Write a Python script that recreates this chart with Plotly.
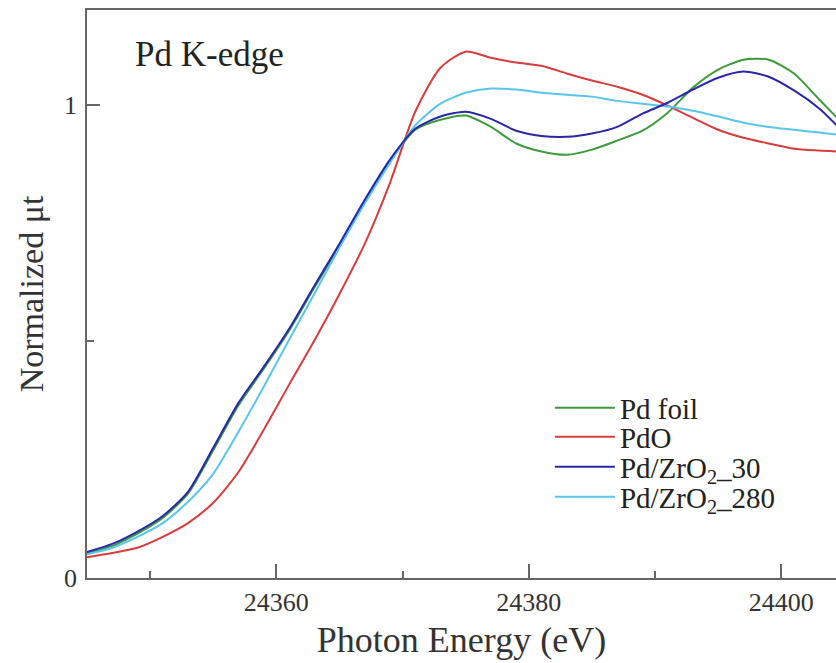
import plotly.graph_objects as go

energy = [24345, 24347, 24349, 24351, 24353, 24355, 24357, 24359, 24361, 24363,
          24365, 24367, 24369, 24371, 24373, 24375, 24377, 24379, 24381, 24383,
          24385, 24387, 24389, 24391, 24393, 24395, 24397, 24399, 24401, 24403, 24404.4]

pd_foil = [0.052, 0.068, 0.094, 0.127, 0.178, 0.270, 0.365, 0.442, 0.522, 0.613,
           0.702, 0.795, 0.880, 0.947, 0.968, 0.977, 0.953, 0.918, 0.901, 0.894,
           0.905, 0.924, 0.945, 0.983, 1.036, 1.074, 1.095, 1.095, 1.066, 1.011, 0.973]

pdo = [0.044, 0.053, 0.064, 0.087, 0.116, 0.159, 0.224, 0.313, 0.408, 0.501,
       0.600, 0.706, 0.835, 0.985, 1.078, 1.112, 1.099, 1.089, 1.082, 1.066,
       1.051, 1.038, 1.021, 0.998, 0.972, 0.947, 0.930, 0.918, 0.907, 0.903, 0.901]

pd_zro2_30 = [0.055, 0.072, 0.098, 0.131, 0.182, 0.275, 0.370, 0.446, 0.526, 0.617,
              0.706, 0.799, 0.884, 0.949, 0.975, 0.985, 0.970, 0.945, 0.934, 0.932,
              0.939, 0.953, 0.981, 1.004, 1.032, 1.057, 1.070, 1.059, 1.030, 0.992, 0.956]

pd_zro2_280 = [0.050, 0.064, 0.087, 0.116, 0.161, 0.220, 0.309, 0.404, 0.503, 0.600,
               0.698, 0.791, 0.877, 0.956, 1.002, 1.025, 1.034, 1.032, 1.025, 1.021,
               1.017, 1.008, 1.002, 0.996, 0.987, 0.975, 0.962, 0.953, 0.947, 0.941, 0.937]

series = [
    ("Pd foil", pd_foil, "#3c9c3c"),
    ("PdO", pdo, "#d83c3c"),
    ("Pd/ZrO<sub>2</sub>_30", pd_zro2_30, "#2828a8"),
    ("Pd/ZrO<sub>2</sub>_280", pd_zro2_280, "#58c6ec"),
]
legend_ids = ["legend", "legend2", "legend3", "legend4"]
legend_y = [0.2993, 0.2482, 0.1954, 0.1426]

FONT = '"Liberation Serif", "Times New Roman", Times, serif'
fig = go.Figure()
draw_order = [0, 1, 3, 2]
for i in draw_order:
    name, vals, col = series[i]
    fig.add_trace(go.Scatter(x=energy, y=vals, mode="lines", name=name,
                             line=dict(color=col, width=2, shape="spline", smoothing=0.7),
                             legend=legend_ids[i]))

axis_common = dict(showline=True, linecolor="#666", linewidth=1.5, mirror=True,
                   ticks="inside", tickcolor="#666", tickwidth=1.5, showgrid=False,
                   zeroline=False, automargin=False,
                   tickfont=dict(family=FONT, size=26, color="#333"))

fig.update_xaxes(range=[24345, 24404.33], tick0=24360, dtick=20, ticklen=14, tickformat="d",
                 minor=dict(dtick=10, tick0=24350, ticklen=7, ticks="inside", tickcolor="#666", tickwidth=1.5),
                 title=dict(text="Photon Energy (eV)", font=dict(family=FONT, size=36, color="#333"), standoff=11),
                 ticklabelstandoff=0, **axis_common)
fig.update_yaxes(range=[0, 1.2], tick0=0, dtick=1, ticklen=13, tickformat="d",
                 minor=dict(dtick=0.5, tick0=0, ticklen=7, ticks="inside", tickcolor="#666", tickwidth=1.5),
                 title=dict(text="Normalized μt", font=dict(family=FONT, size=34, color="#333"), standoff=10),
                 ticklabelstandoff=3, **axis_common)

fig.add_annotation(text="Pd K-edge", xref="paper", yref="paper", x=0.0614, y=0.921,
                   xanchor="left", yanchor="middle", showarrow=False,
                   font=dict(family=FONT, size=35, color="#222"))

legend_style = dict(x=0.618, xanchor="left", yanchor="middle",
                    font=dict(family=FONT, size=29, color="#222"),
                    bgcolor="rgba(0,0,0,0)", itemwidth=60, borderwidth=0)
legends = {lid: dict(y=ly, **legend_style) for lid, ly in zip(legend_ids, legend_y)}

fig.update_layout(width=836, height=663, margin=dict(l=87, r=0, t=10, b=85),
                  paper_bgcolor="white", plot_bgcolor="white",
                  showlegend=True, **legends)

fig.write_html("out.html", config={"displayModeBar": False},
               post_script="document.body.style.margin='0';document.body.style.overflow='hidden';")
